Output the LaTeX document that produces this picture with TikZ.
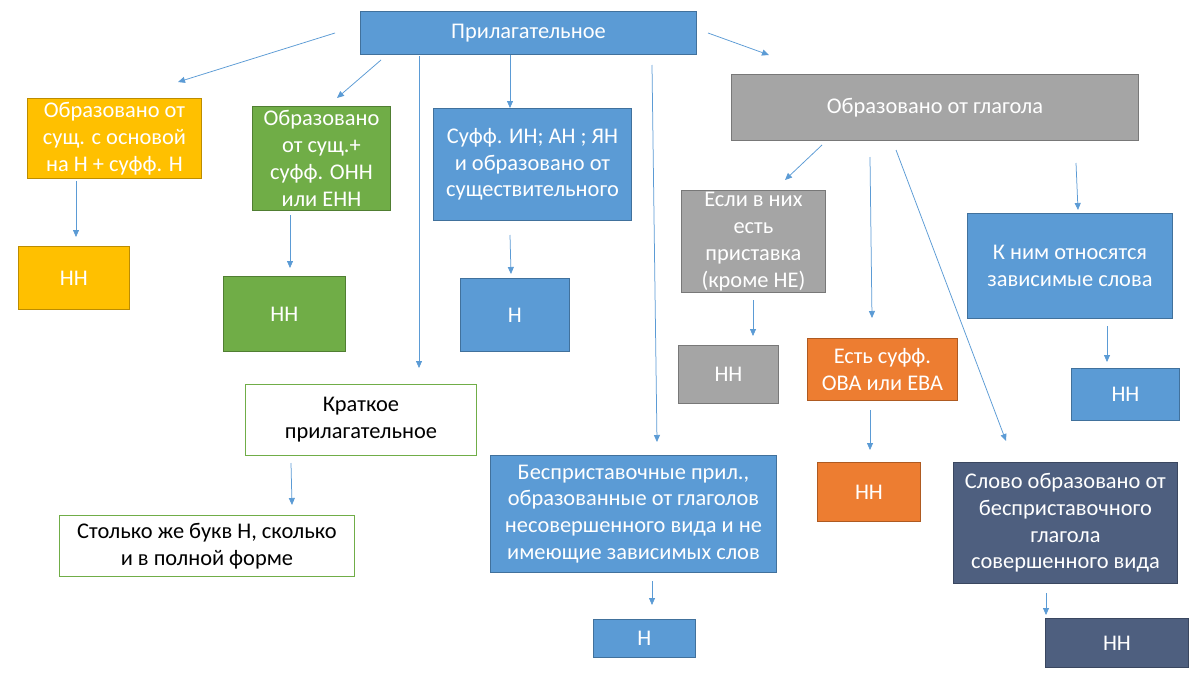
\documentclass[tikz,border=0pt]{standalone}
\usepackage{fontspec}
\setmainfont{Carlito}
\usetikzlibrary{arrows.meta}
\definecolor{blueF}{HTML}{5B9BD5}
\definecolor{blueD}{HTML}{41719C}
\definecolor{yellowF}{HTML}{FFC000}
\definecolor{yellowD}{HTML}{BC8C00}
\definecolor{greenF}{HTML}{70AD47}
\definecolor{greenD}{HTML}{507E32}
\definecolor{grayF}{HTML}{A5A5A5}
\definecolor{grayD}{HTML}{787878}
\definecolor{orangeF}{HTML}{ED7D31}
\definecolor{orangeD}{HTML}{AE5A21}
\definecolor{darkF}{HTML}{4E5F7F}
\definecolor{darkD}{HTML}{3A4760}
\definecolor{arrowc}{HTML}{5B9BD5}
\newcommand{\mybox}[7]{\node[bx,#6,anchor=north west,minimum width={#4pt-#2pt},minimum height={#5pt-#3pt}] (#1) at (#2,#3) {#7};}
\tikzset{
  bx/.style={draw, line width=0.9pt, inner sep=0pt, align=center, text=white,
    font=\fontsize{22.4}{26.8}\selectfont},
  bluebox/.style={fill=blueF, draw=blueD},
  yellowbox/.style={fill=yellowF, draw=yellowD},
  greenbox/.style={fill=greenF, draw=greenD},
  graybox/.style={fill=grayF, draw=grayD},
  orangebox/.style={fill=orangeF, draw=orangeD},
  darkbox/.style={fill=darkF, draw=darkD},
  whitebox/.style={fill=white, draw=greenF, text=black},
  arr/.style={draw=arrowc, line width=0.75pt, -{Triangle[length=7pt,width=6pt]}}
}
\begin{document}
\begin{tikzpicture}[x=1pt,y=-1pt]
\useasboundingbox[fill=white] (0,0) rectangle (1200,675);
% boxes
\mybox{top}{360}{11}{696}{54}{bluebox}{Прилагательное}
\mybox{yel}{27}{98}{201}{178}{yellowbox}{Образовано от\\сущ. с основой\\на Н + суфф. Н}
\mybox{grn}{252}{106}{390}{210}{greenbox}{Образовано\\от сущ.+\\суфф. ОНН\\или ЕНН}
\mybox{suf}{433}{108}{631}{220}{bluebox}{Суфф. ИН; АН ; ЯН\\и образовано от\\существительного}
\mybox{gla}{731}{74}{1138}{140}{graybox}{Образовано от глагола}
\mybox{esl}{681}{190}{825}{292}{graybox}{Если в них\\есть\\приставка\\(кроме НЕ)}
\mybox{hhg}{678}{345}{778}{403}{graybox}{НН}
\mybox{ova}{807}{338}{957}{400}{orangebox}{Есть суфф.\\ОВА или ЕВА}
\mybox{hho}{817}{462}{920}{521}{orangebox}{НН}
\mybox{kni}{967}{213}{1172}{318}{bluebox}{К ним относятся\\зависимые слова}
\mybox{hhk}{1071}{368}{1179}{420}{bluebox}{НН}
\mybox{slo}{953}{462}{1177}{583}{darkbox}{Слово образовано от\\бесприставочного\\глагола\\совершенного вида}
\mybox{hhd}{1045}{618}{1188}{667}{darkbox}{НН}
\mybox{hhy}{18}{246}{129}{309}{yellowbox}{НН}
\mybox{hhgr}{223}{276}{345}{351}{greenbox}{НН}
\mybox{hs}{460}{278}{569}{351}{bluebox}{Н}
\mybox{kra}{245}{384}{476}{455}{whitebox}{Краткое\\прилагательное}
\mybox{sto}{59}{515}{354}{576}{whitebox}{Столько же букв Н, сколько\\и в полной форме}
\mybox{bes}{490}{455}{776}{572}{bluebox}{Бесприставочные прил.,\\образованные от глаголов\\несовершенного вида и не\\имеющие зависимых слов}
\mybox{hb}{593}{619}{695}{657}{bluebox}{Н}
% connector end points
\coordinate (s1) at (335,33);   \coordinate (e1) at (178,82);
\coordinate (s2) at (381,60);   \coordinate (e2) at (337,98);
\coordinate (s3) at (419,56);   \coordinate (e3) at (419,368);
\coordinate (s4) at (510,55);   \coordinate (e4) at (510,108);
\coordinate (s5) at (652,65);   \coordinate (e5) at (657,442);
\coordinate (s6) at (708,33);   \coordinate (e6) at (769,55);
\coordinate (s7) at (822,145);  \coordinate (e7) at (785,180);
\coordinate (s8) at (870,157);  \coordinate (e8) at (872,318);
\coordinate (s9) at (896,150);  \coordinate (e9) at (1006,441);
\coordinate (s10) at (1076,163); \coordinate (e10) at (1078,210);
\coordinate (s11) at (76,181);  \coordinate (e11) at (76,237);
\coordinate (s12) at (290,215); \coordinate (e12) at (290,268);
\coordinate (s13) at (510,235); \coordinate (e13) at (511,274);
\coordinate (s14) at (291,463); \coordinate (e14) at (292,505);
\coordinate (s15) at (753,300); \coordinate (e15) at (753,336);
\coordinate (s16) at (870,410); \coordinate (e16) at (870,450);
\coordinate (s17) at (1107,326); \coordinate (e17) at (1107,362);
\coordinate (s18) at (652,581); \coordinate (e18) at (652,605);
\coordinate (s19) at (1046,593); \coordinate (e19) at (1046,615);
\foreach \i in {1,...,19} { \draw[arr] (s\i) -- (e\i); }
\end{tikzpicture}
\end{document}
